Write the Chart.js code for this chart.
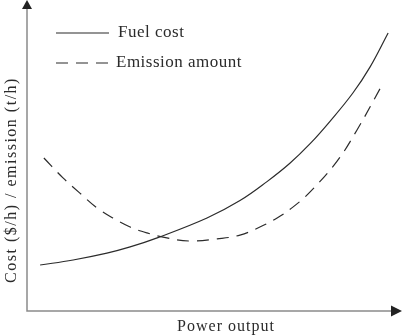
<!DOCTYPE html>
<html>
<head>
<meta charset="utf-8">
<script src="https://cdn.jsdelivr.net/npm/chart.js@4"></script>
<style>
  html, body { margin: 0; padding: 0; background: #fff; }
  canvas { display: block; }
</style>
</head>
<body>
<canvas id="chart" width="402" height="336"></canvas>
<script>
// values (arbitrary units, axes have no ticks)
const fuelX = [3.5, 12.3, 21.3, 27.5, 34.9, 48.0, 56.8, 64.0, 70.1, 75.5, 80.8, 86.9, 91.5, 96.3];
const fuelY = [14.8, 16.4, 18.6, 20.6, 23.6, 29.9, 35.5, 41.6, 47.5, 53.8, 61.0, 70.1, 78.5, 89.4];
const emisX = [4.5, 9.6, 14.1, 18.7, 22.9, 27.5, 32.0, 37.3, 43.5, 50.7, 56.8, 62.1, 66.7, 70.9, 75.5, 82.7, 88.0, 94.7];
const emisY = [49.2, 42.8, 37.9, 33.1, 29.9, 27.0, 25.1, 23.5, 22.5, 23.2, 24.4, 27.0, 29.9, 33.4, 38.3, 48.2, 58.2, 72.7];
const seriesNames = ["Fuel cost", "Emission amount"];
const xTitle = "Power output";
const yTitle = "Cost ($/h) / emission (t/h)";

const ink = "#2b2b2b";
const serif = '"Liberation Serif", "DejaVu Serif", serif';

function pts(xs, ys) {
  return xs.map(function (x, i) { return { x: x, y: ys[i] }; });
}

// axes with arrows, axis titles and the inline legend
const decor = {
  id: "decor",
  afterDraw: function (chart) {
    const ctx = chart.ctx;
    const a = chart.chartArea;
    ctx.save();
    ctx.strokeStyle = "#8a8a8a";
    ctx.lineWidth = 1.5;
    ctx.beginPath();
    ctx.moveTo(a.left, a.top + 8);
    ctx.lineTo(a.left, a.bottom);
    ctx.lineTo(a.right - 10, a.bottom);
    ctx.stroke();

    ctx.fillStyle = "#222";
    ctx.beginPath();
    ctx.moveTo(a.left, a.top);
    ctx.lineTo(a.left - 5, a.top + 9);
    ctx.lineTo(a.left + 5, a.top + 9);
    ctx.closePath();
    ctx.fill();
    ctx.beginPath();
    ctx.moveTo(a.right, a.bottom);
    ctx.lineTo(a.right - 11, a.bottom - 5.5);
    ctx.lineTo(a.right - 11, a.bottom + 5.5);
    ctx.closePath();
    ctx.fill();

    // axis titles
    ctx.fillStyle = ink;
    ctx.font = "16px " + serif;
    ctx.textAlign = "center";
    ctx.textBaseline = "middle";
    ctx.letterSpacing = "1px";
    ctx.fillText(xTitle, 226, 327);
    ctx.save();
    ctx.translate(12, 180);
    ctx.rotate(-Math.PI / 2);
    ctx.letterSpacing = "1.5px";
    ctx.fillText(yTitle, 0, 0);
    ctx.restore();

    // legend
    ctx.letterSpacing = "0.5px";
    ctx.font = "17px " + serif;
    ctx.textAlign = "left";
    const rows = [33, 63];
    chart.data.datasets.forEach(function (ds, i) {
      const y = rows[i];
      ctx.strokeStyle = ink;
      ctx.lineWidth = 1.2;
      ctx.setLineDash(ds.borderDash || []);
      ctx.beginPath();
      ctx.moveTo(56, y);
      ctx.lineTo(109, y);
      ctx.stroke();
      ctx.setLineDash([]);
      ctx.fillText(ds.label, i === 0 ? 118 : 116, y);
    });
    ctx.restore();
  }
};

new Chart(document.getElementById("chart"), {
  type: "line",
  data: {
    datasets: [
      {
        label: seriesNames[0],
        data: pts(fuelX, fuelY),
        borderColor: ink,
        borderWidth: 1.2,
        pointRadius: 0,
        tension: 0.4,
        fill: false
      },
      {
        label: seriesNames[1],
        data: pts(emisX, emisY),
        borderColor: ink,
        borderWidth: 1.2,
        borderDash: [12, 8],
        pointRadius: 0,
        tension: 0.4,
        fill: false
      }
    ]
  },
  options: {
    responsive: false,
    animation: false,
    layout: { padding: { left: 27, right: 0, top: 0, bottom: 25 } },
    plugins: { legend: { display: false }, tooltip: { enabled: false } },
    scales: {
      x: { type: "linear", min: 0, max: 100, display: false },
      y: { min: 0, max: 100, display: false }
    }
  },
  plugins: [decor]
});
</script>
</body>
</html>
